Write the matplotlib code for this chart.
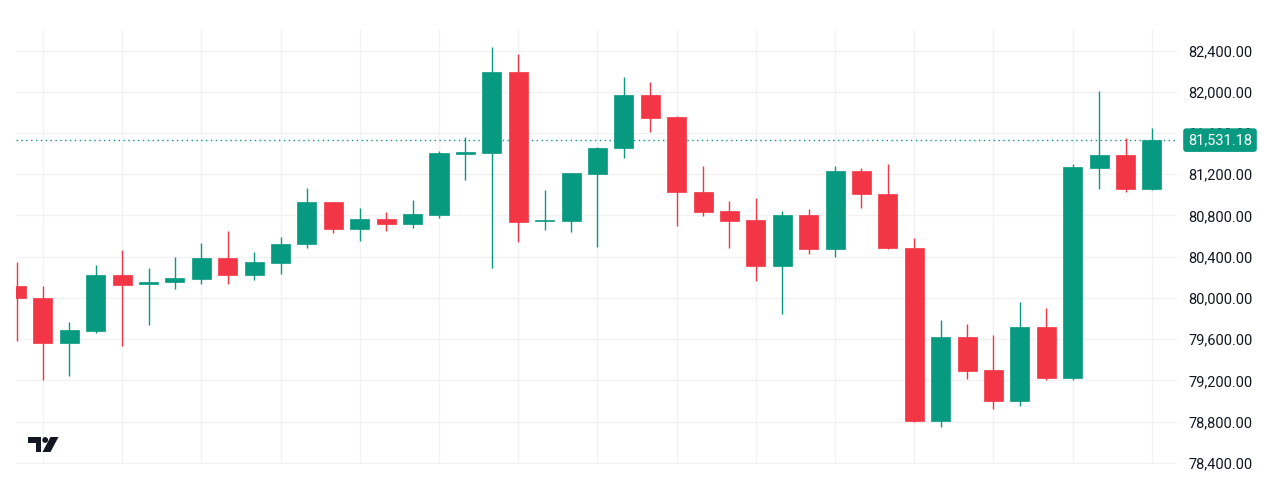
#! /usr/bin/env python3

import matplotlib
matplotlib.use('Agg')
import matplotlib.pyplot as plt
import matplotlib.transforms as mtransforms
import numpy as np
from matplotlib.patches import Polygon, Circle

plt.rcParams['font.family'] = ['Roboto', 'DejaVu Sans']

# OHLC values, oldest first
opens = [80119, 80003, 79561, 79680, 80223, 80136, 80155, 80184, 80385, 80223,
         80342, 80521, 80931, 80666, 80763, 80718, 80808, 81399, 81409, 82189,
         80744, 80747, 81202, 81452, 81968, 81752, 81031, 80844, 80756, 80313,
         80805, 80472, 81229, 81011, 80488, 78807, 79625, 79302, 79004, 79716,
         79221, 81263, 81387, 81057]
highs = [80346, 80119, 79764, 80320, 80465, 80288, 80398, 80536, 80647, 80443,
         80594, 81070, 80935, 80870, 80831, 80950, 81423, 81564, 82437, 82366,
         81047, 81215, 81460, 82140, 82092, 81765, 81277, 80941, 80967, 80844,
         80863, 81280, 81258, 81299, 80579, 79784, 79745, 79644, 79961, 79903,
         81296, 82010, 81554, 81646]
lows = [79583, 79205, 79244, 79664, 79538, 79738, 80084, 80133, 80133, 80175,
        80233, 80488, 80627, 80556, 80650, 80676, 80779, 81144, 80294, 80540,
        80659, 80637, 80492, 81360, 81610, 80698, 80798, 80482, 80165, 79842,
        80424, 80400, 80876, 80478, 78800, 78752, 79212, 78921, 78956, 79205,
        79205, 81057, 81031, 81050]
closes = [79997, 79561, 79690, 80223, 80123, 80158, 80191, 80385, 80223, 80346,
          80524, 80931, 80666, 80763, 80718, 80815, 81406, 81413, 82189, 80737,
          80753, 81209, 81457, 81968, 81745, 81025, 80837, 80750, 80313, 80805,
          80472, 81229, 81006, 80482, 78807, 79625, 79295, 79004, 79716, 79221,
          81267, 81387, 81057, 81531.18]
last_price = 81531.18
price_ticks = np.arange(78400, 82401, 400)

up_col = '#089981'
down_col = '#F23645'
grid_col = '#f2f2f4'

o = np.array(opens, dtype=float)
h = np.array(highs, dtype=float)
l = np.array(lows, dtype=float)
c = np.array(closes, dtype=float)
x = np.arange(len(o))
cols = [up_col if cc >= oo else down_col for oo, cc in zip(o, c)]

fig = plt.figure(figsize=(12.74, 5.0), dpi=100)
ax = fig.add_axes([16/1274, 36/500, 1161/1274, 434/500])

ax.vlines(x, l, h, colors=cols, linewidth=1.0, zorder=2)
body_bottom = np.minimum(o, c)
body_height = np.maximum(np.abs(c - o), 14)
ax.bar(x, body_height, bottom=body_bottom, width=0.72, color=cols,
       edgecolor=cols, linewidth=0.5, zorder=3)

ax.axhline(last_price, color=up_col, linewidth=1.0, linestyle=(0, (1, 2.5)),
           zorder=1)

ax.set_xlim(-0.02, 43.95)
ax.set_ylim(78390, 82599)
ax.set_xticks(np.arange(1, len(o), 3))
ax.set_xticklabels([])
ax.set_yticks(price_ticks)
ax.set_yticklabels(['{:,.2f}'.format(t) for t in price_ticks])
ax.yaxis.tick_right()
ax.tick_params(axis='y', length=0, pad=8, labelsize=10.5, labelcolor='#131722')
ax.tick_params(axis='x', length=0)
ax.grid(True, color=grid_col, linewidth=1.0, zorder=0)
ax.set_axisbelow(True)
for s in ax.spines.values():
    s.set_visible(False)

# last price tag, sits on top of the 81,600 label like in the original
tag = ax.text(0, last_price, '{:,.2f}'.format(last_price),
              color='white', fontsize=10.5, va='center', ha='left',
              clip_on=False, zorder=10,
              bbox=dict(boxstyle='round,pad=0.28,rounding_size=0.15',
                        fc=up_col, ec=up_col))
tag.set_transform(mtransforms.blended_transform_factory(ax.transAxes, ax.transData) +
                  mtransforms.ScaledTranslation(1.0 * 0 + 11/100, 0,
                                                fig.dpi_scale_trans))
tag.set_x(1.0)

# TradingView logo, drawn in pixel space
lax = fig.add_axes([0, 0, 1, 1])
lax.set_xlim(0, 1274)
lax.set_ylim(500, 0)
lax.axis('off')
lax.add_patch(Polygon([(27.5, 437), (41, 437), (41, 452), (35.5, 452),
                       (35.5, 443), (27.5, 443)], closed=True, fc='#131722',
                      ec='none'))
lax.add_patch(Circle((45.2, 440), 2.9, fc='#131722', ec='none'))
lax.add_patch(Polygon([(50.5, 437), (58.5, 437), (50.5, 452), (42.5, 452)],
                      closed=True, fc='#131722', ec='none'))

fig.savefig('out.png', dpi=100)
